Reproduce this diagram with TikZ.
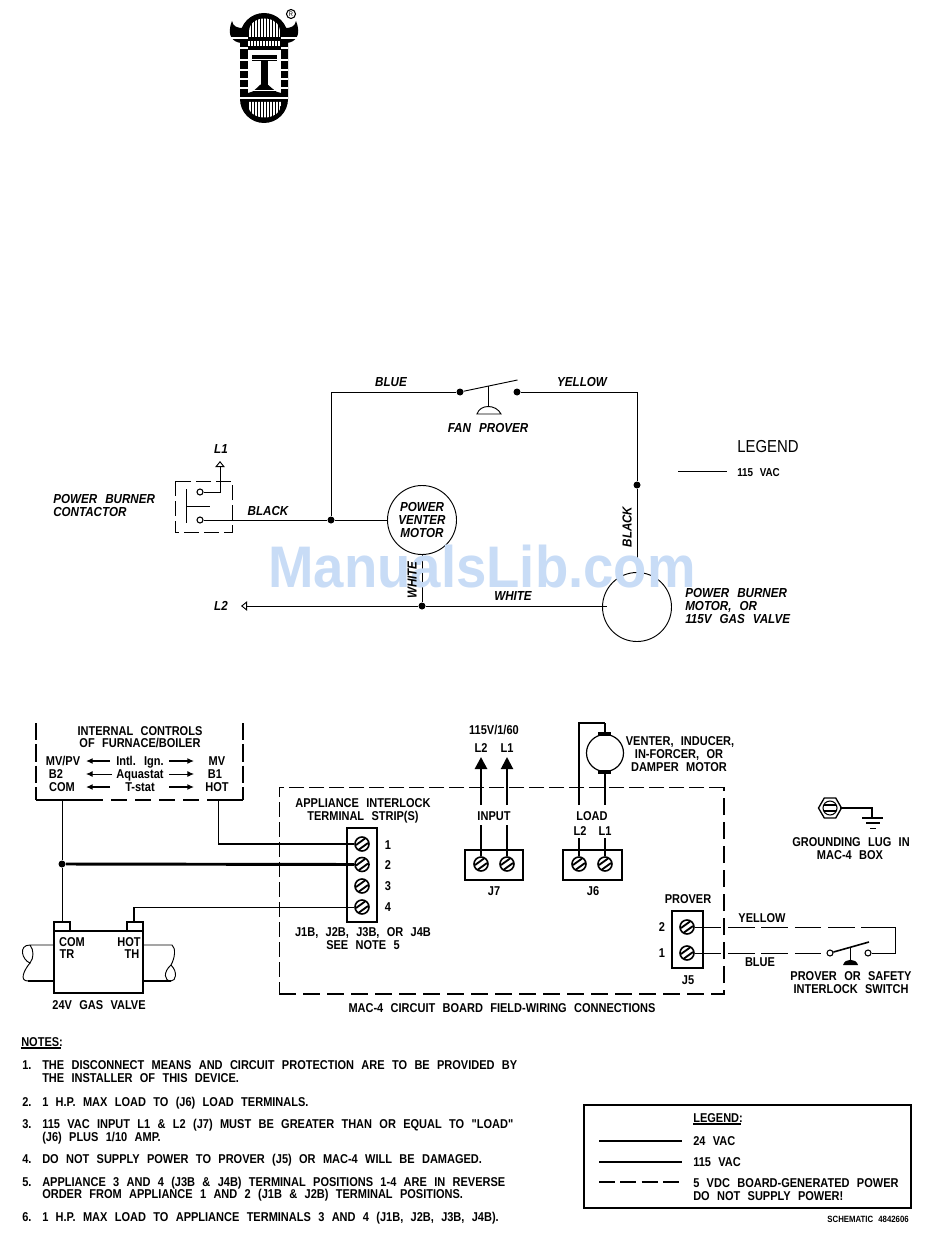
\documentclass[tikz,border=0pt]{standalone}
\usepackage{fontspec}
\usetikzlibrary{arrows.meta,shapes.geometric}
\newfontfamily\cad[FakeStretch=0.86,WordSpace=2.4]{Liberation Sans}
\newfontfamily\cadw[FakeStretch=0.89,WordSpace=2.5]{Liberation Sans}
\newfontfamily\wmfont{Liberation Sans}
\definecolor{wm}{HTML}{C8DCF6}
\def\px{0.75pt}
\tikzset{
 tx/.style={inner sep=0,text height=6.9pt,text depth=0pt,font=\cad\bfseries\fontsize{9.6}{11}\selectfont},
 tl/.style={tx,anchor=west},
 ti/.style={inner sep=0,text height=7pt,text depth=0pt,font=\cadw\bfseries\itshape\fontsize{9.8}{11}\selectfont},
 til/.style={ti,anchor=west},
 thin wire/.style={line width=0.7pt},
 med wire/.style={line width=1.3pt},
 thick wire/.style={line width=2.2pt},
 dot/.style={circle,fill=black,inner sep=0,minimum size=7*\px},
 opendot/.style={circle,draw,line width=0.8pt,inner sep=0,minimum size=6*\px,fill=white},
 ring/.style={circle,draw,line width=0.7pt,inner sep=0,minimum size=69*\px},
 screw/.style={circle,draw,line width=1.2pt,inner sep=0,minimum size=14*\px,fill=white,
  path picture={\draw[line width=1.4pt]
   ([xshift=-6*\px,yshift=-1*\px]path picture bounding box.center)--([xshift=3*\px,yshift=5.5*\px]path picture bounding box.center)
   ([xshift=-3*\px,yshift=-5.5*\px]path picture bounding box.center)--([xshift=6*\px,yshift=1*\px]path picture bounding box.center);}},
 blk/.style={draw,line width=1pt,inner sep=0},
 dashthin/.style={line width=0.7pt,dash pattern=on 11pt off 4pt},
 dashthick/.style={line width=1.6pt,dash pattern=on 13pt off 5pt},
 dashwire/.style={line width=0.7pt,dash pattern=on 20pt off 5pt},
 bigarrow/.style={line width=2pt,-{Triangle[length=9pt,width=9pt]}},
 smallarrow/.style={line width=1.2pt,-{Latex[length=5pt,width=4.5pt]}},
 hollow/.style={line width=0.7pt,-{Triangle[open,length=4.5pt,width=7pt]}},
}
\begin{document}
\begin{tikzpicture}[x=0.75pt,y=-0.75pt]
\useasboundingbox (0,0) rectangle (950,1241);
% ---------- logo ----------
\fill[black] (241,43) .. controls (233,42) and (226,36) .. (232,21) .. controls (233,27) and (238,28) .. (243,28) -- cycle;
\fill[black] (287,43) .. controls (295,42) and (302,36) .. (296,21) .. controls (295,27) and (290,28) .. (285,28) -- cycle;
\fill[black,rounded corners=18pt] (240,13) rectangle (288,123);
\fill[white] (248,50) rectangle (281,93);
\begin{scope}
\clip (249,37) -- (249,32) .. controls (249,14) and (280,14) .. (280,32) -- (280,37) -- cycle;
\foreach \xx in {250,253,...,280} \draw[white,line width=0.9pt] (\xx,14) -- (\xx,37);
\end{scope}
\begin{scope}
\clip (248,102) -- (281,102) -- (281,104) .. controls (281,122) and (248,122) .. (248,104) -- cycle;
\foreach \xx in {250,253,...,280} \draw[white,line width=0.9pt] (\xx,100) -- (\xx,122);
\end{scope}
\foreach \xx in {249,252,...,280} \draw[white,line width=1pt] (\xx,41) -- (\xx,46);
\foreach \yy in {38,48,60,70,79,88,98} {
 \draw[white,line width=0.8pt] (240,\yy) -- (248,\yy);
 \draw[white,line width=0.8pt] (281,\yy) -- (288,\yy);
}
\draw[white,line width=0.8pt] (226,38) -- (240,38) (288,38) -- (303,38);
\fill[black] (252,55) rectangle (277,61);
\fill[black] (261,61) rectangle (268,85);
\fill[black] (248,93) .. controls (255,93) and (258,84) .. (264,83) .. controls (270,84) and (274,93) .. (281,93) -- cycle;
\draw[white,line width=0.6pt] (252,59) -- (277,59) (250,90) -- (279,90);
\fill[black] (240,93) rectangle (288,100);
\draw[white,line width=0.8pt] (240,98) -- (288,98);
\node[circle,draw,line width=0.8pt,inner sep=0,minimum size=9*\px,font=\cad\fontsize{5}{5}\selectfont] (reg) at (291,14) {R};
% ---------- upper schematic ----------
\node[dot] (d1) at (460,392) {};
\node[dot] (d2) at (517,392) {};
\node[dot] (d3) at (331,520) {};
\node[dot] (d4) at (422,606) {};
\node[dot] (d5) at (637,485) {};
\node[ring] (venter) at (422,520) {};
\node[ring] (burner) at (637,607) {};
\coordinate (corner1) at (331,392);
\coordinate (corner2) at (637,392);
\node[opendot,rounded corners=1pt] (c1) at (200,492) {};
\node[opendot] (c2) at (200,520) {};
\draw[dashthin] (175,481) rectangle (232,532);
\draw[thin wire] (186,489) -- (186,523);
\coordinate (barmid) at (186,506);
\coordinate (barend) at (210,506);
\draw[thin wire] (barmid) -- (barend);
\coordinate (l1bend) at (220,492);
\coordinate (l1tip) at (220,461);
\draw[hollow] (c1) -- (l1bend) -- (l1tip);
\draw[thin wire] (c2) -- (d3) -- (venter);
\draw[thin wire] (d3) -- (corner1) -- (d1);
\coordinate (armend) at (517.5,380);
\draw[thin wire] (d1) -- (armend);
\coordinate (pushtop) at (488,386);
\coordinate (pushbot) at (488,406);
\draw[thin wire] (pushtop) -- (pushbot);
\draw[thin wire] (477,414) .. controls (480,404) and (496,404) .. (501,414) -- cycle;
\coordinate (burnertop) at (637,577);
\draw[thin wire] (d2) -- (corner2) -- (d5) -- (burnertop);
\coordinate (l2tip) at (241,606);
\coordinate (burnerleft) at (607,606);
\draw[hollow] (d4) -- (l2tip);
\draw[thin wire] (d4) -- (burnerleft);
\draw[thin wire] (venter) -- (d4);
\coordinate (lega) at (678,471);
\coordinate (legb) at (727,471);
\draw[thin wire] (lega) -- (legb);
% watermark
\node[inner sep=0,anchor=base west,text=wm,xscale=0.93,font=\wmfont\bfseries\fontsize{44}{44}\selectfont] (wmark) at (268,587) {ManualsLib.com};
% upper labels
\node[ti] (lb1) at (391,382) {BLUE};
\node[ti] (lb2) at (582,382) {YELLOW};
\node[ti] (lb3) at (488,428) {FAN PROVER};
\node[ti] (lb4) at (221,449) {L1};
\node[ti] (lb5) at (221,606) {L2};
\node[til] (lb6) at (53,499) {POWER BURNER};
\node[til] (lb7) at (53,512) {CONTACTOR};
\node[ti] (lb8) at (268,511) {BLACK};
\node[ti] (lb9) at (422,507) {POWER};
\node[ti] (lb10) at (422,520) {VENTER};
\node[ti] (lb11) at (422,533) {MOTOR};
\node[ti] (lb12) at (513,596) {WHITE};
\node[ti,rotate=90] (lb13) at (627,527) {BLACK};
\node[ti,rotate=90] (lb14) at (412,580) {WHITE};
\node[til] (lb15) at (685,593) {POWER BURNER};
\node[til] (lb16) at (685,606) {MOTOR, OR};
\node[til] (lb17) at (685,619) {115V GAS VALVE};
\node[inner sep=0,anchor=west,font=\cad\fontsize{13}{15}\selectfont] (lb18) at (737,447) {LEGEND};
\node[tl,text height=6.2pt,font=\cad\bfseries\fontsize{8.6}{9}\selectfont] (lb19) at (737,472) {115 VAC};
% ---------- internal controls ----------
\draw[line width=1.1pt,dash pattern=on 13pt off 3pt] (36,723) -- (36,800);
\draw[line width=1.4pt] (36,800) -- (87,800);
\draw[line width=1.4pt,dash pattern=on 12pt off 6pt] (87,800) -- (218,800);
\draw[line width=1.4pt] (218,800) -- (243,800);
\draw[line width=1.1pt,dash pattern=on 13pt off 3pt] (243,723) -- (243,800);
\node[tx] (t1) at (140,731) {INTERNAL CONTROLS};
\node[tx] (t2) at (140,743) {OF FURNACE/BOILER};
\node[tx] (t3) at (63,761) {MV/PV};
\node[tx] (t4) at (140,761) {Intl. Ign.};
\node[tx] (t5) at (217,761) {MV};
\node[tx] (t6) at (56,774) {B2};
\node[tx] (t7) at (140,774) {Aquastat};
\node[tx] (t8) at (215,774) {B1};
\node[tx] (t9) at (62,787) {COM};
\node[tx] (t10) at (140,787) {T-stat};
\node[tx] (t11) at (217,787) {HOT};
\foreach \yy/\n in {761/a,787/c} {
 \coordinate (m\n1) at (110,\yy); \coordinate (m\n2) at (86,\yy);
 \coordinate (m\n3) at (169,\yy); \coordinate (m\n4) at (194,\yy);
 \draw[smallarrow] (m\n1) -- (m\n2);
 \draw[smallarrow] (m\n3) -- (m\n4);
}
\coordinate (mb1) at (112,774); \coordinate (mb2) at (86,774);
\coordinate (mb3) at (169,774); \coordinate (mb4) at (194,774);
\draw[line width=0.7pt,-{Latex[length=5pt,width=4.5pt]}] (mb1) -- (mb2);
\draw[line width=0.7pt,-{Latex[length=5pt,width=4.5pt]}] (mb3) -- (mb4);
% ---------- terminal strip ----------
\node[blk,minimum width=30*\px,minimum height=94*\px] (strip) at (362,875) {};
\node[screw] (s1) at (362,844) {};
\node[screw] (s2) at (362,864.5) {};
\node[screw] (s3) at (362,886) {};
\node[screw] (s4) at (362,907) {};
\node[tx] (n1) at (388,845) {1};
\node[tx] (n2) at (388,865) {2};
\node[tx] (n3) at (388,886) {3};
\node[tx] (n4) at (388,907) {4};
\node[tx] (t12) at (363,803) {APPLIANCE INTERLOCK};
\node[tx] (t13) at (363,816) {TERMINAL STRIP(S)};
\node[tx] (t14) at (363,932) {J1B, J2B, J3B, OR J4B};
\node[tx] (t15) at (363,945) {SEE NOTE 5};
% ---------- valve ----------
\node[draw,line width=0.9pt,inner sep=0,minimum width=89*\px,minimum height=62*\px] (valve) at (98.5,962) {};
\draw[line width=2pt] (54,931) -- (54,993);
\draw[line width=1.3pt] (54,993) -- (143,993);
\draw[line width=0.8pt] (54,931) -- (54,922) -- (70,922) -- (70,931);
\draw[line width=2pt] (54,922) -- (70,922);
\draw[line width=0.8pt] (127,931) -- (127,922) -- (143,922) -- (143,931);
\draw[line width=2pt] (127,922) -- (143,922);
\node[tx] (v1) at (72,942) {COM};
\node[tx] (v2) at (67,954) {TR};
\node[tx] (v3) at (129,942) {HOT};
\node[tx] (v4) at (132,954) {TH};
\node[tx] (v5) at (99,1005) {24V GAS VALVE};
\draw[thin wire] (54,945) -- (30,945) .. controls (18,945) and (22,960) .. (30,963) .. controls (34,958) and (34,950) .. (30,945);
\draw[thin wire] (30,963) .. controls (24,970) and (19,981) .. (28,981);
\draw[line width=1.2pt] (28,981) -- (54,981);
\draw[thin wire] (143,945) -- (172,945) .. controls (176,948) and (175,958) .. (171,965);
\draw[thin wire] (171,965) .. controls (178,972) and (176,981) .. (171,981) .. controls (164,981) and (163,972) .. (171,965);
\draw[line width=1.2pt] (143,981) -- (171,981);
% ---------- field wires ----------
\node[dot] (jn) at (62,864) {};
\coordinate (comtop) at (62,800);
\coordinate (comtab) at (62,922);
\draw[thin wire] (comtop) -- (jn) -- (comtab);
\draw[thick wire] (jn) -- (s2);
\coordinate (hotbox) at (218,800);
\coordinate (hotbend) at (218,844);
\draw[thin wire] (hotbox) -- (hotbend);
\draw[med wire] (hotbend) -- (s1);
\coordinate (htab) at (134,922);
\coordinate (hbend) at (134,907);
\draw[line width=1.6pt] (htab) -- (hbend);
\draw[thin wire] (hbend) -- (s4);
% ---------- MAC-4 box ----------
\draw[dashthin] (724,787) -- (279,787) -- (279,994);
\draw[dashthick] (279,994) -- (724,994) -- (724,787);
\node[tx] (t16) at (502,1008) {MAC-4 CIRCUIT BOARD FIELD-WIRING CONNECTIONS};
% ---------- J7 ----------
\node[blk,line width=1.4pt,minimum width=58*\px,minimum height=30*\px] (j7) at (494,865) {};
\node[screw] (s5) at (481,864) {};
\node[screw] (s6) at (507,864) {};
\node[tx] (t17) at (494,730) {115V/1/60};
\node[tx] (t18) at (481,748) {L2};
\node[tx] (t19) at (507,748) {L1};
\node[tx] (t20) at (494,816) {INPUT};
\node[tx] (t21) at (494,891) {J7};
\coordinate (a1) at (481,805); \coordinate (a2) at (481,757);
\coordinate (a3) at (507,805); \coordinate (a4) at (507,757);
\coordinate (a5) at (481,825); \coordinate (a6) at (507,825);
\draw[bigarrow] (a1) -- (a2);
\draw[bigarrow,line width=1.5pt] (a3) -- (a4);
\draw[line width=2pt] (a5) -- (s5);
\draw[line width=1.5pt] (a6) -- (s6);
% ---------- J6 ----------
\node[blk,minimum width=59*\px,minimum height=30*\px] (j6) at (592.5,865) {};
\node[screw] (s7) at (579,864) {};
\node[screw] (s8) at (605,864) {};
\node[tx] (t22) at (592,816) {LOAD};
\node[tx] (t23) at (580,831) {L2};
\node[tx] (t24) at (605,831) {L1};
\node[tx] (t25) at (593,891) {J6};
\coordinate (b1) at (579,838); \coordinate (b2) at (605,838);
\draw[line width=2pt] (b1) -- (s7);
\draw[line width=1.2pt] (b2) -- (s8);
\node[draw,circle,line width=0.9pt,inner sep=0,minimum size=37*\px] (motor) at (605,753) {};
\fill[black] (598,732) rectangle (611,736);
\fill[black] (598,770) rectangle (611,774);
\coordinate (e1) at (579,805); \coordinate (e2) at (579,723); \coordinate (e3) at (605,723); \coordinate (e4) at (605,733);
\coordinate (e5) at (605,774); \coordinate (e6) at (605,805);
\draw[line width=2pt] (e1) -- (e2) -- (e3);
\draw[line width=1.2pt] (e3) -- (e4);
\draw[line width=1.2pt] (e5) -- (e6);
\node[tx] (t26) at (680,741) {VENTER, INDUCER,};
\node[tx] (t27) at (679,754) {IN-FORCER, OR};
\node[tx] (t28) at (679,767) {DAMPER MOTOR};
% ---------- ground lug ----------
\node[regular polygon,regular polygon sides=6,draw,line width=1pt,inner sep=0,minimum size=23*\px] (lug) at (830,808) {};
\node[circle,draw,line width=0.8pt,inner sep=0,minimum size=14*\px] (lugin) at (830,808) {};
\draw[line width=0.8pt] (824,805) -- (836,805) (824,811) -- (836,811);
\coordinate (gb) at (872,808); \coordinate (gc) at (872,818);
\draw[line width=1.8pt] (lug) ++(10,0) -- (gb) -- (gc);
\draw[line width=1.6pt] (862,818) -- (883,818);
\draw[line width=0.9pt] (866,823) -- (880,823);
\draw[line width=0.7pt] (870,828) -- (876,828);
\node[tx] (t29) at (851,842) {GROUNDING LUG IN};
\node[tx] (t30) at (850,855) {MAC-4 BOX};
% ---------- prover ----------
\node[blk,minimum width=31*\px,minimum height=57*\px] (j5) at (687.5,939.5) {};
\node[screw] (s9) at (687,927) {};
\node[screw] (s10) at (687,953) {};
\node[tx] (t31) at (688,899) {PROVER};
\node[tx] (t32) at (662,927) {2};
\node[tx] (t33) at (662,953) {1};
\node[tx] (t34) at (688,980) {J5};
\node[tx] (t35) at (762,918) {YELLOW};
\node[tx] (t36) at (760,962) {BLUE};
\node[opendot] (p1) at (830,953) {};
\node[opendot] (p2) at (868,953) {};
\coordinate (pc0) at (878,927); \coordinate (pc1) at (895,927); \coordinate (pc2) at (895,953); \coordinate (arm2) at (869,942);
\draw[dashwire] (s9) -- (pc0);
\draw[thin wire] (pc0) -- (pc1) -- (pc2) -- (p2);
\draw[dashwire] (s10) -- (p1);
\draw[line width=1.2pt] (p1) -- (arm2);
\coordinate (pu1) at (850,947); \coordinate (pu2) at (850,960);
\draw[thin wire] (pu1) -- (pu2);
\fill[black] (843,965) .. controls (845,958) and (856,958) .. (858,965) -- cycle;
\node[tx] (t37) at (851,976) {PROVER OR SAFETY};
\node[tx] (t38) at (851,989) {INTERLOCK SWITCH};
% ---------- notes ----------
\node[tl] (nt0) at (21,1042) {NOTES:};
\coordinate (nu1) at (21,1048); \coordinate (nu2) at (61,1048);
\draw[line width=1pt] (nu1) -- (nu2);
\node[tl] (nt1) at (22,1065) {1.};
\node[tl] (nt1a) at (42,1065) {THE DISCONNECT MEANS AND CIRCUIT PROTECTION ARE TO BE PROVIDED BY};
\node[tl] (nt1b) at (42,1078) {THE INSTALLER OF THIS DEVICE.};
\node[tl] (nt2) at (22,1101.5) {2.};
\node[tl] (nt2a) at (42,1101.5) {1 H.P. MAX LOAD TO (J6) LOAD TERMINALS.};
\node[tl] (nt3) at (22,1124) {3.};
\node[tl] (nt3a) at (42,1124) {115 VAC INPUT L1 \& L2 (J7) MUST BE GREATER THAN OR EQUAL TO "LOAD"};
\node[tl] (nt3b) at (42,1136.5) {(J6) PLUS 1/10 AMP.};
\node[tl] (nt4) at (22,1159) {4.};
\node[tl] (nt4a) at (42,1159) {DO NOT SUPPLY POWER TO PROVER (J5) OR MAC-4 WILL BE DAMAGED.};
\node[tl] (nt5) at (22,1181.5) {5.};
\node[tl] (nt5a) at (42,1181.5) {APPLIANCE 3 AND 4 (J3B \& J4B) TERMINAL POSITIONS 1-4 ARE IN REVERSE};
\node[tl] (nt5b) at (42,1194) {ORDER FROM APPLIANCE 1 AND 2 (J1B \& J2B) TERMINAL POSITIONS.};
\node[tl] (nt6) at (22,1217) {6.};
\node[tl] (nt6a) at (42,1217) {1 H.P. MAX LOAD TO APPLIANCE TERMINALS 3 AND 4 (J1B, J2B, J3B, J4B).};
% ---------- legend ----------
\node[draw,line width=1pt,inner sep=0,minimum width=327*\px,minimum height=103*\px] (legend) at (747.5,1156.5) {};
\draw[line width=1.8pt] (584,1208) -- (584,1105) -- (911,1105);
\node[tl] (g0) at (693,1118) {LEGEND:};
\coordinate (gu1) at (693,1124); \coordinate (gu2) at (741,1124);
\draw[line width=1pt] (gu1) -- (gu2);
\coordinate (g1a) at (599,1141); \coordinate (g1b) at (682,1141);
\coordinate (g2a) at (599,1162); \coordinate (g2b) at (682,1162);
\coordinate (g3a) at (599,1182); \coordinate (g3b) at (682,1182);
\draw[line width=1pt] (g1a) -- (g1b);
\draw[line width=1pt] (g2a) -- (g2b);
\draw[line width=1pt,dash pattern=on 12pt off 4pt] (g3a) -- (g3b);
\node[tl] (g1) at (693,1141) {24 VAC};
\node[tl] (g2) at (693,1162) {115 VAC};
\node[tl] (g3) at (693,1183) {5 VDC BOARD-GENERATED POWER};
\node[tl] (g4) at (693,1196) {DO NOT SUPPLY POWER!};
\node[inner sep=0,anchor=east,font=\cad\bfseries\fontsize{6.8}{7}\selectfont] (sch) at (909,1219) {SCHEMATIC 4842606};
\end{tikzpicture}
\end{document}
